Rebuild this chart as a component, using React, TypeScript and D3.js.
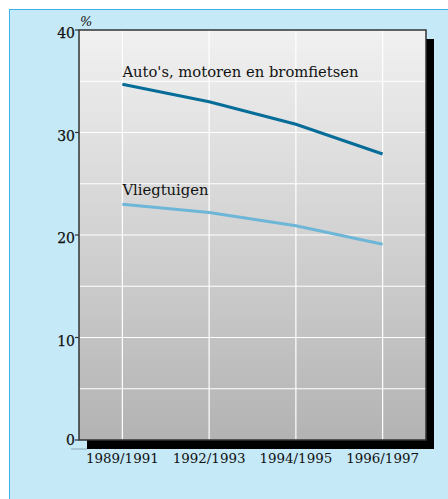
import React from 'react';
import * as d3 from 'd3';

const periods = ['1989/1991', '1992/1993', '1994/1995', '1996/1997'];
const autos = [34.7, 33.0, 30.8, 27.9];
const vliegtuigen = [23.0, 22.2, 20.9, 19.1];
const yTicks = [0, 10, 20, 30, 40];
const gridValues = [5, 10, 15, 20, 25, 30, 35];

const series = [
  { name: "Auto's, motoren en bromfietsen", values: autos, color: '#066d98', labelDy: -7 },
  { name: 'Vliegtuigen', values: vliegtuigen, color: '#6db6d8', labelDy: -9.5 },
];

export default function App() {
  const W = 448;
  const H = 499;
  const plot = { left: 79, top: 30, right: 426, bottom: 440 };
  const shadow = 8;

  const x = d3.scalePoint<string>().domain(periods).range([plot.left, plot.right]).padding(0.5);
  const y = d3.scaleLinear().domain([0, 40]).range([plot.bottom, plot.top]);

  const line = d3
    .line<number>()
    .x((_, i) => x(periods[i]) as number)
    .y((d) => y(d));

  const font = '"DejaVu Serif", serif';

  return (
    <svg
      width={W}
      height={H}
      style={{ position: 'absolute', left: 0, top: 0, display: 'block' }}
    >
      <defs>
        <linearGradient id="plotBg" x1="0" y1="0" x2="0" y2="1">
          <stop offset="0%" stopColor="#f1f1f1" />
          <stop offset="100%" stopColor="#b3b3b3" />
        </linearGradient>
      </defs>

      {/* panel */}
      <rect x={9.5} y={9.5} width={W} height={H} fill="#c6e9f8" stroke="#3ab4e8" strokeWidth={1} />

      {/* shadow */}
      <rect
        x={plot.left + shadow}
        y={plot.top + 9}
        width={plot.right - plot.left}
        height={plot.bottom - plot.top}
        fill="#000"
      />
      <line x1={71} x2={plot.left + shadow} y1={449} y2={449} stroke="#9fbccc" strokeWidth={1.5} />

      {/* plot area */}
      <rect
        x={plot.left}
        y={plot.top}
        width={plot.right - plot.left}
        height={plot.bottom - plot.top}
        fill="url(#plotBg)"
      />

      {/* grid */}
      {gridValues.map((v) => (
        <line key={'h' + v} x1={plot.left} x2={plot.right} y1={y(v)} y2={y(v)} stroke="#fff" strokeWidth={1.2} />
      ))}
      {periods.map((p) => (
        <line key={'v' + p} x1={x(p)} x2={x(p)} y1={plot.top} y2={plot.bottom} stroke="#fff" strokeWidth={1.2} />
      ))}

      <rect
        x={plot.left}
        y={plot.top}
        width={plot.right - plot.left}
        height={plot.bottom - plot.top}
        fill="none"
        stroke="#333"
        strokeWidth={1.5}
      />

      {/* y axis */}
      {yTicks.map((t) => (
        <g key={'t' + t}>
          <line x1={plot.left - 4} x2={plot.left} y1={y(t)} y2={y(t)} stroke="#333" strokeWidth={1.2} />
          <text
            x={plot.left - 4}
            y={y(t) + (t === 0 ? 5 : 8)}
            textAnchor="end"
            fontFamily={font}
            fontSize={14}
            fill="#111"
            stroke="#111"
            strokeWidth={0.25}
          >
            {t}
          </text>
        </g>
      ))}
      <text x={80} y={26} fontFamily={font} fontSize={13} fontStyle="italic" fill="#111">
        %
      </text>

      {/* x axis labels */}
      {periods.map((p) => (
        <text
          key={'x' + p}
          x={x(p)}
          y={463}
          textAnchor="middle"
          fontFamily={font}
          fontSize={13.4}
          fill="#111"
        >
          {p}
        </text>
      ))}

      {/* series */}
      {series.map((s) => (
        <g key={s.name}>
          <path d={line(s.values) || ''} fill="none" stroke={s.color} strokeWidth={3} />
          <text
            x={x(periods[0])}
            y={y(s.values[0]) + s.labelDy}
            fontFamily={font}
            fontSize={14.75}
            fill="#111"
          >
            {s.name}
          </text>
        </g>
      ))}
    </svg>
  );
}
